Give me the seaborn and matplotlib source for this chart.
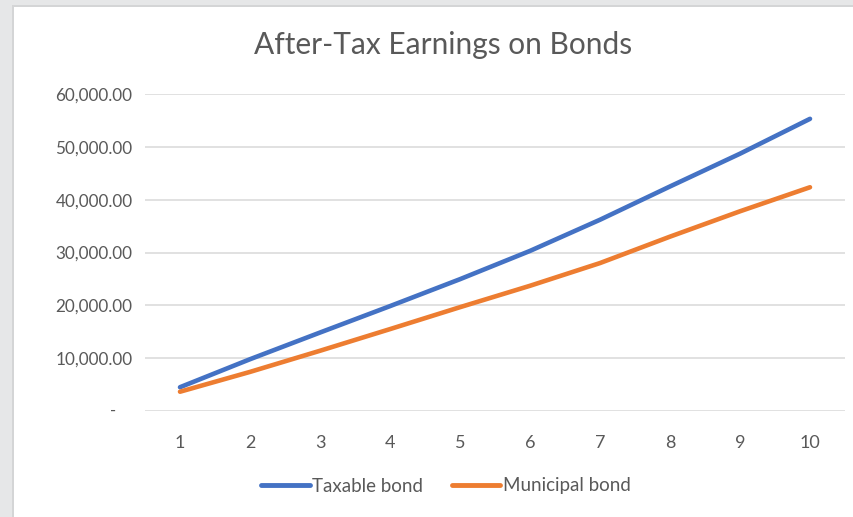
import matplotlib
matplotlib.use("Agg")
import matplotlib.pyplot as plt
from matplotlib.patches import Rectangle
from matplotlib.ticker import FuncFormatter
import seaborn as sns
import pandas as pd

years = [1, 2, 3, 4, 5, 6, 7, 8, 9, 10]
taxable = [4500, 9800, 14850, 19850, 24950, 30300, 36200, 42500, 48700, 55300]
municipal = [3650, 7400, 11400, 15500, 19650, 23700, 28000, 33000, 37800, 42350]
series_names = ["Taxable bond", "Municipal bond"]
colors = ["#4472C4", "#ED7D31"]
y_ticks = [0, 10000, 20000, 30000, 40000, 50000, 60000]

df = pd.DataFrame({
    "Year": years * 2,
    "Value": taxable + municipal,
    "Series": [series_names[0]] * len(years) + [series_names[1]] * len(years),
})

sns.set_style("white")
plt.rcParams["font.family"] = ["Lato", "DejaVu Sans"]
text_color = "#595959"

fig = plt.figure(figsize=(8.54, 5.17), dpi=100, facecolor="#e6e7e8")
# white chart box with a thin darker frame on the top and left
fig.patches.append(Rectangle((12 / 854, 0), 1, (517 - 5) / 517, transform=fig.transFigure,
                             facecolor="#d4d5d6", edgecolor="none", zorder=-10))
fig.patches.append(Rectangle((14 / 854, 0), 1, (517 - 7) / 517, transform=fig.transFigure,
                             facecolor="white", edgecolor="none", zorder=-9))

ax = fig.add_axes([145 / 854, (517 - 411) / 517, 700 / 854, 317 / 517])
ax.set_facecolor("none")
ax.set_zorder(1)

sns.lineplot(data=df, x="Year", y="Value", hue="Series", palette=colors, linewidth=3.3, ax=ax)
for line in ax.lines:
    line.set_solid_capstyle("round")

ax.set_xlim(0.5, 10.5)
ax.set_ylim(0, 60000)
ax.set_xticks(years)
ax.set_yticks(y_ticks)
ax.yaxis.set_major_formatter(FuncFormatter(lambda v, p: "" if v == 0 else f"{v:,.2f}"))
# Excel accounting format shows zero as a dash
ax.text(-32 / 700, 0, "-", transform=ax.get_yaxis_transform(), ha="center", va="center",
        color=text_color, fontsize=12)

ax.grid(axis="y", color="#d9d9d9", linewidth=1.1)
ax.set_axisbelow(True)
for s in ax.spines.values():
    s.set_visible(False)
ax.tick_params(axis="both", length=0, labelcolor=text_color)
ax.tick_params(axis="x", pad=17, labelsize=13)
ax.tick_params(axis="y", pad=9, labelsize=12.3)
ax.set_xlabel("")
ax.set_ylabel("")

fig.text(443 / 854, 1 - 45 / 517, "After-Tax Earnings on Bonds", ha="center", va="center",
         fontsize=21.5, color=text_color)

handles, labels = ax.get_legend_handles_labels()
for h in handles:
    h.set_linewidth(3.5)
    h.set_solid_capstyle("round")
ax.legend(handles, labels, loc="center", bbox_to_anchor=(446 / 854, 1 - 486 / 517),
          bbox_transform=fig.transFigure, ncol=2, frameon=False, fontsize=13.5,
          handlelength=2.6, handletextpad=0.15, columnspacing=1.5, labelcolor=text_color)

fig.savefig("out.png", dpi=100, facecolor=fig.get_facecolor())
